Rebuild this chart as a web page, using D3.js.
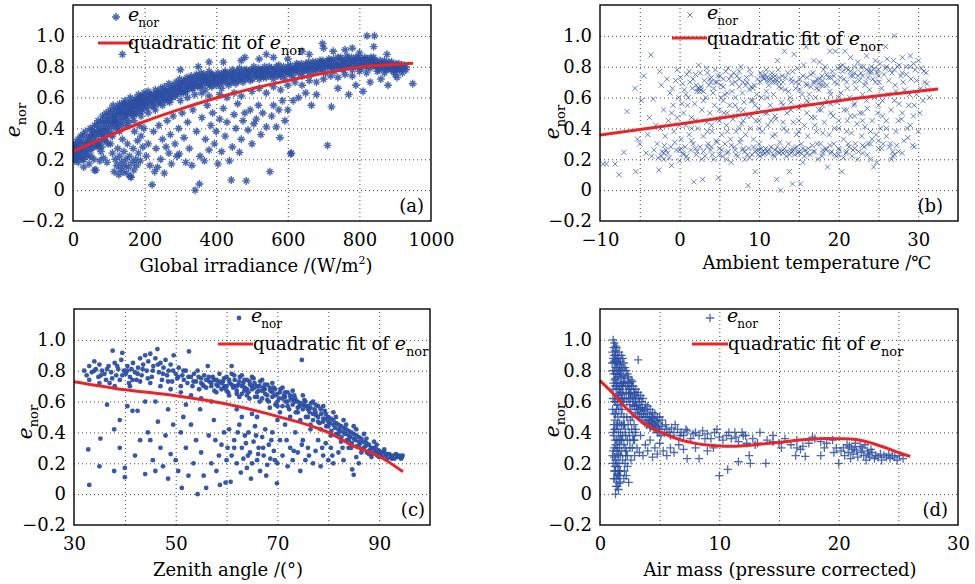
<!DOCTYPE html>
<html><head><meta charset="utf-8">
<script src="https://cdn.jsdelivr.net/npm/d3@7"></script>
<style>
body{margin:0;background:#fff;}
svg{display:block;font-family:"DejaVu Serif",serif;}
</style></head><body>
<svg id="chart" width="975" height="584"></svg>
<script>
// ---------------- DATA ----------------
const yTicks = [-0.2, 0, 0.2, 0.4, 0.6, 0.8, 1.0];
const yGrid = [0, 0.2, 0.4, 0.6, 0.8, 1.0];
const xTicksIrr = [0, 200, 400, 600, 800, 1000];
const xTicksTemp = [-10, 0, 10, 20, 30];
const xTicksZen = [30, 50, 70, 90];
const xTicksAM = [0, 10, 20, 30];
const panelLabels = ["(a)", "(b)", "(c)", "(d)"];

const ptsIrr = [[2,0.24],[3,0.27],[5,0.22],[6,0.3],[8,0.25],[10,0.28],[12,0.21],[14,0.33],[15,0.26],[18,0.23],[20,0.3],[22,0.35],[25,0.27],[27,0.2],[30,0.32],[32,0.25],[35,0.38],[38,0.29],[40,0.22],[42,0.34],[45,0.3],[48,0.4],[50,0.26],[52,0.36],[55,0.32],[58,0.2],[60,0.42],[62,0.35],[65,0.29],[68,0.38],[70,0.45],[72,0.31],[75,0.4],[78,0.25],[80,0.36],[82,0.48],[85,0.43],[88,0.33],[90,0.39],[92,0.5],[95,0.45],[98,0.3],[100,0.41],[103,0.52],[105,0.47],[108,0.36],[110,0.44],[112,0.55],[115,0.49],[118,0.4],[120,0.46],[123,0.53],[125,0.43],[128,0.5],[130,0.56],[133,0.47],[135,0.52],[138,0.42],[140,0.55],[143,0.5],[145,0.58],[148,0.46],[150,0.53],[153,0.49],[155,0.56],[158,0.51],[160,0.6],[163,0.54],[165,0.48],[168,0.57],[170,0.52],[173,0.59],[175,0.55],[178,0.5],[180,0.58],[183,0.62],[185,0.54],[188,0.57],[190,0.6],[193,0.52],[195,0.56],[198,0.63],[200,0.58],[205,0.55],[208,0.6],[210,0.64],[215,0.57],[218,0.61],[220,0.55],[225,0.62],[228,0.58],[230,0.65],[235,0.6],[238,0.56],[240,0.63],[245,0.66],[248,0.59],[250,0.62],[255,0.67],[258,0.6],[260,0.64],[265,0.58],[268,0.69],[270,0.63],[275,0.66],[278,0.6],[280,0.68],[285,0.64],[288,0.7],[290,0.62],[295,0.67],[298,0.72],[300,0.65],[305,0.69],[308,0.63],[310,0.71],[315,0.67],[318,0.73],[320,0.65],[325,0.7],[328,0.68],[330,0.74],[335,0.66],[338,0.71],[340,0.69],[345,0.75],[348,0.67],[350,0.72],[355,0.7],[358,0.76],[360,0.68],[365,0.73],[368,0.71],[370,0.65],[375,0.74],[378,0.69],[380,0.77],[385,0.72],[388,0.67],[390,0.75],[395,0.7],[398,0.73],[400,0.68],[405,0.76],[410,0.71],[412,0.74],[415,0.66],[420,0.73],[425,0.77],[428,0.7],[430,0.75],[435,0.68],[440,0.74],[445,0.78],[448,0.71],[450,0.76],[455,0.69],[460,0.74],[465,0.79],[468,0.72],[470,0.76],[475,0.7],[480,0.75],[485,0.78],[488,0.73],[490,0.77],[495,0.71],[500,0.76],[505,0.8],[510,0.74],[515,0.77],[520,0.72],[525,0.78],[530,0.75],[535,0.8],[540,0.73],[545,0.77],[550,0.75],[555,0.79],[560,0.72],[565,0.78],[570,0.76],[575,0.81],[580,0.74],[585,0.78],[590,0.72],[595,0.77],[600,0.8],[605,0.75],[610,0.78],[615,0.73],[620,0.79],[625,0.82],[630,0.76],[635,0.8],[640,0.74],[645,0.78],[650,0.82],[655,0.77],[660,0.8],[665,0.75],[670,0.83],[675,0.79],[680,0.77],[685,0.81],[690,0.84],[695,0.78],[700,0.82],[705,0.76],[710,0.8],[715,0.85],[720,0.79],[725,0.83],[730,0.77],[735,0.81],[740,0.86],[745,0.8],[750,0.84],[755,0.78],[760,0.82],[765,0.87],[770,0.8],[775,0.84],[780,0.78],[785,0.83],[790,0.86],[795,0.8],[800,0.84],[805,0.79],[810,0.82],[815,0.86],[820,0.81],[825,0.84],[830,0.79],[835,0.83],[840,0.86],[845,0.8],[850,0.83],[855,0.78],[860,0.82],[865,0.8],[870,0.84],[875,0.78],[880,0.81],[885,0.79],[890,0.83],[895,0.77],[900,0.8],[905,0.78],[910,0.82],[915,0.79],[920,0.76],[925,0.81],[930,0.78],
[410,0.62],[430,0.6],[450,0.63],[470,0.61],[500,0.64],[520,0.66],[540,0.63],[560,0.67],[580,0.65],[600,0.68],[620,0.7],[640,0.68],[660,0.71],[680,0.7],[700,0.72],[720,0.74],[740,0.73],[760,0.75],[780,0.74],[800,0.77],[820,0.76],[850,0.77],[870,0.76],[900,0.75],[300,0.58],[320,0.6],[340,0.62],[360,0.63],[380,0.61],[250,0.55],[270,0.57],[230,0.52],[210,0.5],[190,0.48],[170,0.45],[150,0.42],[130,0.38],[110,0.35],[90,0.32],[70,0.28],[50,0.22],[30,0.2],[15,0.18],[5,0.19],
[4,0.29],[9,0.2],[13,0.24],[17,0.31],[21,0.26],[24,0.22],[28,0.36],[33,0.29],[37,0.24],[41,0.31],[44,0.27],[47,0.35],[51,0.3],[54,0.39],[57,0.28],[61,0.37],[64,0.32],[67,0.42],[71,0.36],[74,0.3],[77,0.44],[79,0.39],[83,0.35],[86,0.46],[89,0.41],[93,0.37],[96,0.48],[99,0.44],[102,0.38],[106,0.5],[109,0.42],[113,0.46],[116,0.52],[119,0.44],[122,0.49],[126,0.41],[129,0.54],[132,0.5],[136,0.45],[139,0.51],[142,0.56],[146,0.48],[149,0.55],[152,0.51],[156,0.44],[159,0.57],[162,0.53],[166,0.5],[169,0.55],[172,0.49],[176,0.58],[179,0.53],[182,0.56],[186,0.6],[189,0.51],[192,0.58],[196,0.54],[199,0.61],[203,0.57],[207,0.53],[212,0.59],[216,0.62],[222,0.58],[226,0.54],[232,0.6],[236,0.63],[242,0.57],[246,0.61],[252,0.64],[256,0.58],[262,0.62],[266,0.65],[272,0.6],[276,0.63],[282,0.66],[286,0.61],[292,0.65],[296,0.69],[302,0.63],[306,0.66],[312,0.7],[316,0.64],[322,0.68],[326,0.72],[332,0.66],[336,0.7],[342,0.73],[346,0.68],[352,0.74],[356,0.67],[362,0.71],[366,0.75],[372,0.7],[376,0.72],[382,0.68],[386,0.75],[392,0.71],[396,0.74],[402,0.72],[408,0.69],[414,0.75],[418,0.7],[422,0.76],[426,0.72],[432,0.73],[438,0.76],[442,0.7],[446,0.74],[452,0.72],[458,0.77],[462,0.71],[466,0.75],[472,0.73],[478,0.78],[482,0.72],[486,0.75],[492,0.74],[498,0.78],[502,0.72],[508,0.77],[512,0.75],[518,0.79],[522,0.74],[528,0.77],[532,0.73],[538,0.78],[542,0.76],[548,0.8],[552,0.74],[558,0.77],[562,0.75],[568,0.8],[572,0.74],[578,0.78],[582,0.76],[588,0.8],[592,0.75],[598,0.78],[602,0.77],[608,0.81],[612,0.76],[618,0.79],[622,0.77],[628,0.81],[632,0.78],[638,0.82],[642,0.77],[648,0.8],[652,0.78],[658,0.83],[662,0.79],[668,0.81],[672,0.78],[678,0.83],[682,0.8],[688,0.82],[692,0.79],[698,0.84],[702,0.8],[708,0.83],[712,0.81],[718,0.84],[722,0.8],[728,0.85],[732,0.81],[738,0.83],[742,0.8],[748,0.86],[752,0.81],[758,0.84],[762,0.8],[768,0.85],[772,0.82],[778,0.86],[782,0.81],[788,0.84],[792,0.82],[798,0.86],[802,0.81],[808,0.85],[812,0.83],[818,0.8],[822,0.85],[828,0.82],[832,0.86],[838,0.81],[842,0.84],[848,0.82],[852,0.8],[858,0.84],[862,0.81],[868,0.79],[872,0.82],[878,0.8],[882,0.83],[888,0.78],[892,0.81],[898,0.79],[902,0.82],[908,0.8],[912,0.78],[918,0.81],[922,0.79],[928,0.8],
[640,0.9],[660,0.88],[700,0.92],[697,0.95],[727,0.9],[760,0.91],[780,0.92],[800,0.89],[821,1.0],[842,1.0],[840,0.93],[877,0.88],[905,0.73],[949,0.69],[560,0.86],[600,0.85],[520,0.85],[470,0.84],[420,0.83],[380,0.83],[300,0.78],[350,0.8],[138,0.88],[480,0.86],[540,0.88],
[30,0.15],[45,0.17],[60,0.13],[64,0.13],[75,0.19],[85,0.21],[95,0.18],[80,0.28],[105,0.3],[110,0.24],[115,0.12],[118,0.2],[122,0.16],[125,0.27],[128,0.1],[130,0.22],[132,0.14],[135,0.18],[138,0.33],[140,0.12],[142,0.25],[145,0.16],[148,0.2],[150,0.11],[152,0.3],[155,0.15],[158,0.22],[160,0.09],[162,0.083],[165,0.18],[168,0.27],[170,0.13],[172,0.38],[175,0.2],[178,0.16],[180,0.32],[183,0.24],[185,0.42],[188,0.19],[190,0.35],[195,0.28],[198,0.4],[205,0.22],[210,0.3],[215,0.16],[221,0.035],[225,0.38],[228,0.12],[232,0.27],[236,0.148],[240,0.42],[245,0.2],[250,0.33],[255,0.11],[260,0.28],[263,0.45],[268,0.24],[272,0.36],[275,0.17],[280,0.48],[285,0.3],[290,0.22],[297,0.235],[295,0.4],[305,0.5],[310,0.34],[315,0.18],[320,0.44],[325,0.27],[332,0.16],[335,0.52],[341,0.0],[345,0.38],[353,0.04],[355,0.22],[360,0.47],[367,0.19],[370,0.33],[375,0.55],[380,0.26],[385,0.42],[390,0.5],[395,0.3],[400,0.38],[405,0.17],[410,0.46],[415,0.25],[420,0.53],[425,0.35],[430,0.44],[437,0.19],[442,0.065],[445,0.28],[450,0.49],[455,0.4],[460,0.56],[465,0.245],[470,0.33],[475,0.45],[480,0.5],[484,0.06],[489,0.39],[495,0.52],[500,0.3],[505,0.43],[512,0.46],[518,0.55],[525,0.36],[530,0.5],[540,0.41],[550,0.12],[555,0.48],[560,0.55],[568,0.41],[575,0.52],[578,0.34],[585,0.58],[592,0.45],[600,0.52],[608,0.235],[610,0.24],[615,0.58],[630,0.6],[650,0.63],[666,0.55],[680,0.62],[711,0.29],[722,0.54],[740,0.66],[770,0.62],[790,0.68],[810,0.64],[830,0.7],[860,0.72],[880,0.68]];

const ptsTemp = [[-9.6,0.17],[-9.2,0.17],[-8.1,0.17],[-7.6,0.1],[-7,0.245],[-6.6,0.51],[-5.6,0.66],[-5.5,0.12],[-5.3,0.33],[-5,0.3],[-4.5,0.74],[-4.8,0.58],[-4.2,0.24],[-4,0.36],[-3.6,0.876],[-3.5,0.22],[-3.8,0.47],[-3.3,0.59],[-3,0.42],[-2.8,0.3],[-2.6,0.13],[-2.5,0.77],[-2.3,0.68],[-2.2,0.25],[-2,0.52],[-2,0.2],[-1.8,0.35],[-1.6,0.72],[-1.5,0.24],[-1.4,0.45],[-1.2,0.63],[-1.1,0.28],[-1,0.16],[-0.8,0.55],[-0.7,0.38],[-0.5,0.71],[-0.4,0.26],[-0.3,0.47],[-0.1,0.6],[0,0.19],[0.1,0.73],[0.2,0.33],[0.3,0.56],[0.4,0.24],[0.5,0.5],[0.6,0.65],[0.7,0.28],[0.8,0.42],[0.9,0.75],[1,0.2],[1.1,0.6],[1.2,0.36],[1.3,0.7],[1.4,0.26],[1.5,0.47],[1.6,0.66],[1.7,0.3],[1.8,0.054],[1.9,0.56],[2,0.75],[2.1,0.23],[2.2,0.64],[2.3,0.4],[2.4,0.81],[2.5,0.66],[2.6,0.28],[2.7,0.65],[2.8,0.52],[2.9,0.07],[3,0.35],[3.1,0.71],[3.2,0.22],[3.3,0.6],[3.4,0.44],[3.5,0.76],[3.6,0.3],[3.7,0.68],[3.8,0.5],[3.9,0.26],[4,0.73],[4.1,0.38],[4.2,0.63],[4.3,0.2],[4.4,0.55],[4.5,0.78],[4.6,0.32],[4.7,0.7],[4.8,0.46],[4.9,0.08],[5,0.27],[5.1,0.74],[5.2,0.6],[5.3,0.36],[5.4,0.22],[5.5,0.67],[5.6,0.5],[5.7,0.3],[5.8,0.77],[5.9,0.42],[6,0.63],[6.1,0.25],[6.2,0.72],[6.3,0.55],[6.4,0.33],[6.5,0.18],[6.6,0.69],[6.7,0.46],[6.8,0.76],[6.9,0.28],[7,0.6],[7.1,0.38],[7.2,0.74],[7.3,0.22],[7.4,0.52],[7.5,0.67],[7.6,0.31],[7.7,0.8],[7.8,0.43],[7.9,0.26],[8,0.7],[8.1,0.57],[8.2,0.2],[8.3,0.36],[8.4,0.73],[8.5,0.48],[8.6,0.03],[8.7,0.27],[8.8,0.65],[8.9,0.4],[9,0.75],[9.1,0.23],[9.2,0.58],[9.3,0.33],[9.4,0.68],[9.5,0.12],[9.6,0.45],[9.7,0.26],[9.8,0.72],[9.9,0.53],[10,0.3],[10.1,0.22],[10.2,0.76],[10.3,0.6],[10.4,0.38],[10.5,0.25],[10.6,0.72],[10.7,0.5],[10.8,0.27],[10.9,0.64],[11,0.73],[11.1,0.42],[11.2,0.24],[11.3,0.71],[11.4,0.55],[11.5,0.28],[11.6,0.74],[11.7,0.35],[11.8,0.62],[11.9,0.22],[12,0.72],[12.1,0.46],[12.2,0.07],[12.3,0.84],[12.4,0.25],[12.5,0.67],[12.6,0.31],[12.7,0.0],[12.8,0.57],[12.9,0.74],[13,0.26],[13.1,0.4],[13.2,0.9],[13.3,0.65],[13.4,0.22],[13.5,0.5],[13.6,0.76],[13.7,0.3],[13.8,0.12],[13.9,0.6],[14,0.24],[14.1,0.7],[14.2,0.04],[14.3,0.44],[14.4,0.88],[14.5,0.27],[14.6,0.66],[14.7,0.36],[14.8,0.79],[14.9,0.24],[15,0.53],[15.1,0.72],[15.2,0.04],[15.3,0.3],[15.4,0.62],[15.5,0.18],[15.6,0.81],[15.7,0.42],[15.8,0.26],[15.9,0.93],[16,0.68],[16.1,0.35],[16.2,0.57],[16.3,0.98],[16.4,0.23],[16.5,0.75],[16.6,0.47],[16.7,0.29],[16.8,0.7],[16.9,0.84],[17,0.25],[17.1,0.6],[17.2,0.38],[17.3,0.72],[17.4,0.2],[17.5,0.65],[17.6,0.83],[17.7,0.3],[17.8,0.52],[17.9,0.74],[18,0.24],[18.1,0.68],[18.2,0.44],[18.3,0.8],[18.4,0.27],[18.5,0.58],[18.6,0.15],[18.7,0.73],[18.8,0.36],[18.9,0.9],[19,0.62],[19.1,0.25],[19.2,0.77],[19.3,0.48],[19.4,0.3],[19.5,0.7],[19.6,0.9],[19.7,0.22],[19.8,0.57],[19.9,0.79],[20,0.4],[20.1,0.26],[20.2,0.73],[20.3,0.63],[20.4,0.12],[20.5,0.81],[20.6,0.33],[20.7,0.52],[20.8,0.9],[20.9,0.24],[21,0.7],[21.1,0.45],[21.2,0.78],[21.3,0.28],[21.4,0.6],[21.5,0.86],[21.6,0.37],[21.7,0.22],[21.8,0.74],[21.9,0.55],[22,0.8],[22.1,0.3],[22.2,0.66],[22.3,0.43],[22.4,0.83],[22.5,0.25],[22.6,0.71],[22.7,0.5],[22.8,0.76],[22.9,0.35],[23,0.62],[23.1,0.8],[23.2,0.28],[23.3,0.41],[23.4,0.7],[23.5,0.87],[23.6,0.53],[23.7,0.3],[23.8,0.77],[23.9,0.65],[24,0.2],[24.1,0.8],[24.2,0.45],[24.3,0.72],[24.4,0.15],[24.5,0.6],[24.6,0.84],[24.7,0.36],[24.8,0.76],[24.9,0.5],[25,0.27],[25.1,0.7],[25.2,0.82],[25.3,0.4],[25.5,0.58],[25.6,0.3],[25.7,0.75],[25.9,0.93],[26,0.45],[26.1,0.85],[26.2,0.62],[26.4,0.28],[26.5,0.78],[26.6,0.52],[26.8,0.22],[26.9,0.84],[27,1.0],[27.1,0.68],[27.2,0.38],[27.4,0.8],[27.5,0.25],[27.6,0.56],[27.8,0.74],[27.9,0.46],[28,0.86],[28.2,0.32],[28.3,0.65],[28.5,0.8],[28.6,0.4],[28.8,0.55],[29,0.87],[29.1,0.72],[29.3,0.29],[29.4,0.48],[29.6,0.78],[29.8,0.62],[30,0.84],[30.2,0.5],[30.4,0.79],[30.6,0.58],[30.8,0.7],[31,0.76],[31.2,0.65],[31.4,0.6],
[2.5,0.64],[2.7,0.67],[2.3,0.66],[3.8,0.72],[4.5,0.7],[10.5,0.73],[11,0.71],[11.5,0.72],[12,0.74],[11.8,0.7],[12.5,0.73],[10.8,0.75],[17,0.7],[17.5,0.69],[18,0.71],[16.5,0.67],[19,0.73],[18.5,0.75],[17.8,0.68],[20.5,0.77],[21,0.79],[22,0.76],[23.5,0.78],[24,0.76],[24.5,0.79],[23,0.74],[21.5,0.74],[9.5,0.25],[10,0.26],[10.5,0.23],[11,0.25],[12,0.26],[12.5,0.24],[13,0.24],[13.5,0.25],[14,0.26],[14.5,0.23],[15,0.25],[15.5,0.27],[16,0.24],[8,0.27],[8.5,0.23],[-2,0.24],[-1.7,0.26],[-2.3,0.22],[0,0.26],[0.5,0.23],[18,0.26],[19,0.24],[20,0.23],[21,0.25],[22,0.27],[23,0.24],[6,0.24],[7,0.26],[5,0.23],[3,0.25],[4,0.28],[2,0.27],[24,0.3],[25,0.32],[26.5,0.3],[26.8,0.25],[27,0.23],[5.5,0.72],[6.5,0.74],[7.5,0.72],[8.5,0.7],[9,0.67],[14,0.72],[15,0.69],[16,0.73],[13,0.7],[12.5,0.7],[27,0.78],[28,0.76],[29,0.8],[26,0.8],[25,0.78],[10,0.45],[11,0.5],[12,0.48],[13,0.55],[14,0.52],[15,0.45],[16,0.5],[17,0.47],[18,0.55],[19,0.5],[20,0.45],[21,0.52],[22,0.48],[23,0.45],[5,0.45],[6,0.5],[7,0.48],[8,0.52],[9,0.48],
[-0.9,0.66],[-0.3,0.78],[0.4,0.69],[0.8,0.62],[1.2,0.77],[1.7,0.72],[2.1,0.68],[2.6,0.76],[3.0,0.64],[3.4,0.79],[3.9,0.7],[4.3,0.66],[4.8,0.74],[5.2,0.68],[5.7,0.62],[6.1,0.79],[6.6,0.64],[7.0,0.7],[7.5,0.77],[7.9,0.63],[8.3,0.68],[8.8,0.78],[9.2,0.66],[9.7,0.62],[10.1,0.7],[10.4,0.74],[10.9,0.78],[11.2,0.68],[11.6,0.76],[12.1,0.7],[12.4,0.78],[12.8,0.66],[13.3,0.73],[13.7,0.64],[14.2,0.77],[14.6,0.7],[15.1,0.65],[15.5,0.74],[15.9,0.69],[16.3,0.62],[16.8,0.76],[17.2,0.66],[17.6,0.72],[18.1,0.78],[18.5,0.68],[18.9,0.64],[19.4,0.74],[19.8,0.69],[20.2,0.8],[20.7,0.72],[21.1,0.66],[21.5,0.77],[22,0.7],[22.4,0.74],[22.8,0.8],[23.3,0.68],[23.7,0.73],[24.1,0.77],[24.6,0.7],[25,0.74],[25.4,0.66],[25.9,0.79],[26.3,0.71],[26.7,0.76],[27.2,0.64],[27.6,0.81],[28.1,0.7],[28.5,0.75],[28.9,0.62],[29.4,0.82],[29.8,0.71],[30.3,0.66],[30.7,0.77],[31.1,0.69],
[-3.2,0.26],[-2.7,0.21],[-1.9,0.29],[-1.3,0.21],[-0.6,0.31],[0.2,0.27],[0.9,0.22],[1.5,0.32],[2.2,0.25],[2.8,0.2],[3.5,0.28],[4.1,0.23],[4.7,0.31],[5.3,0.26],[5.9,0.2],[6.5,0.29],[7.1,0.23],[7.7,0.33],[8.2,0.25],[8.8,0.21],[9.3,0.28],[9.9,0.23],[10.3,0.27],[10.7,0.24],[11.3,0.26],[11.8,0.23],[12.3,0.28],[12.8,0.25],[13.2,0.27],[13.8,0.23],[14.3,0.26],[14.7,0.28],[15.3,0.24],[15.7,0.22],[16.2,0.27],[16.8,0.25],[17.3,0.3],[17.9,0.22],[18.4,0.26],[18.9,0.29],[19.5,0.23],[20,0.27],[20.6,0.21],[21.2,0.3],[21.8,0.26],[22.4,0.2],[23,0.29],[23.6,0.23],[24.2,0.33],[24.8,0.18],[25.4,0.27],[26,0.35],[26.6,0.2],[27.3,0.29],[28,0.24],[28.7,0.34],[29.5,0.28],
[-2.4,0.4],[-1,0.5],[0,0.42],[1,0.55],[2,0.45],[3,0.58],[4,0.42],[5,0.52],[6,0.38],[7,0.55],[8,0.45],[9,0.58],[10,0.4],[11,0.6],[12,0.36],[13,0.44],[14,0.57],[15,0.38],[16,0.58],[17,0.42],[18,0.37],[19,0.56],[20,0.6],[21,0.38],[22,0.56],[23,0.5],[24,0.38],[25,0.55],[26,0.4],[27,0.58],[28,0.5],[29,0.42],[30,0.38],[1.5,0.4],[3.5,0.38],[5.5,0.58],[7.5,0.4],[9.5,0.55],[11.5,0.45],[13.5,0.38],[15.5,0.55],[17.5,0.52],[19.5,0.4],[21.5,0.48],[23.5,0.58],[25.5,0.48],[27.5,0.45],[29.5,0.55]];

const ptsZen = [[32,0.8],[32.5,0.77],[33,0.83],[33.5,0.79],[34,0.86],[34.3,0.81],[34.8,0.76],[35,0.84],[35.5,0.8],[36,0.78],[36.3,0.74],[36.8,0.83],[37,0.72],[37.3,0.79],[37.6,0.93],[38,0.85],[38.3,0.77],[38.7,0.81],[39,0.74],[39.3,0.87],[39.5,0.915],[39.8,0.8],[40.2,0.78],[40.5,0.83],[40.8,0.72],[41,0.76],[41.3,0.81],[41.6,0.85],[42,0.79],[42.3,0.74],[42.6,0.82],[43,0.88],[43.3,0.77],[43.6,0.84],[44,0.9],[44.3,0.8],[44.6,0.86],[45,0.91],[45.3,0.76],[45.6,0.83],[46,0.88],[46.4,0.94],[46.7,0.79],[47,0.85],[47.3,0.74],[47.6,0.82],[48,0.87],[48.3,0.77],[48.6,0.8],[49,0.84],[49.3,0.73],[49.6,0.9],[50,0.78],[50.3,0.75],[50.6,0.82],[51,0.7],[51.3,0.77],[51.6,0.74],[52,0.8],[52.3,0.72],[52.6,0.925],[53,0.76],[53.3,0.7],[53.6,0.78],[54,0.73],[54.3,0.8],[54.6,0.68],[55,0.75],[55.3,0.71],[55.6,0.77],[56,0.69],[56.3,0.83],[56.6,0.73],[57,0.7],[57.3,0.76],[57.6,0.67],[58,0.74],[58.3,0.7],[58.6,0.78],[59,0.68],[59.3,0.73],[59.6,0.7],[60,0.76],[60.3,0.66],[60.6,0.72],[61,0.83],[61.3,0.69],[61.6,0.74],[62,0.67],[62.3,0.71],[62.6,0.76],[63,0.65],[63.3,0.72],[63.6,0.69],[64,0.74],[64.3,0.66],[64.6,0.71],[65,0.68],[65.3,0.75],[65.6,0.63],[66,0.7],[66.3,0.67],[66.6,0.73],[67,0.62],[67.3,0.69],[67.6,0.65],[68,0.71],[68.3,0.6],[68.6,0.67],[69,0.63],[69.3,0.69],[69.6,0.58],[70,0.65],[70.3,0.62],[70.6,0.68],[71,0.57],[71.3,0.64],[71.6,0.6],[72,0.66],[72.3,0.55],[72.6,0.62],[73,0.58],[73.3,0.64],[73.6,0.53],[74,0.6],[74.3,0.57],[74.8,0.87],[75,0.55],[75.3,0.61],[75.6,0.5],[76,0.57],[76.3,0.53],[76.6,0.59],[77,0.48],[77.3,0.55],[77.6,0.51],[78,0.57],[78.3,0.46],[78.6,0.52],[79,0.49],[79.3,0.54],[79.6,0.44],[80,0.5],[80.3,0.46],[80.6,0.41],[81,0.48],[81.3,0.43],[81.6,0.39],[82,0.45],[82.3,0.41],[82.6,0.37],[83,0.43],[83.3,0.39],[83.6,0.35],[84,0.41],[84.3,0.37],[84.6,0.33],[85,0.39],[85.3,0.35],[85.6,0.31],[86,0.37],[86.3,0.33],[86.6,0.29],[87,0.34],[87.3,0.31],[87.6,0.27],[88,0.32],[88.3,0.29],[88.6,0.26],[89,0.3],[89.3,0.27],[89.6,0.25],[90,0.28],[90.3,0.26],[90.6,0.24],[91,0.27],[91.3,0.25],[91.6,0.23],[92,0.26],[92.3,0.24],[92.6,0.25],[93,0.23],[93.3,0.26],[93.6,0.24],[94,0.25],[94.3,0.23],[94.6,0.25],
[55,0.72],[56,0.74],[57,0.72],[58,0.71],[59,0.72],[60,0.7],[61,0.71],[62,0.7],[63,0.7],[64,0.68],[65,0.7],[66,0.66],[67,0.67],[68,0.64],[69,0.66],[70,0.6],[71,0.62],[72,0.6],[73,0.61],[74,0.56],[75,0.58],[76,0.55],[77,0.52],[78,0.5],[79,0.47],[80,0.47],[81,0.45],[82,0.42],[83,0.4],[84,0.38],[85,0.36],[86,0.34],[87,0.3],[88,0.28],[89,0.27],[90,0.26],[59.5,0.75],[61.5,0.77],[63.5,0.74],[65.5,0.72],[67.5,0.71],[69.5,0.68],[71.5,0.66],[73.5,0.62],[75.5,0.6],[77.5,0.58],[79.5,0.52],[81.5,0.5],[83.5,0.45],[85.5,0.42],[87.5,0.36],[89.5,0.32],[60.5,0.64],[62.5,0.63],[64.5,0.62],[66.5,0.6],[68.5,0.56],[70.5,0.53],[72.5,0.5],[74.5,0.48],[76.5,0.45],[78.5,0.42],[80.5,0.38],[82.5,0.34],[84.5,0.3],[86.5,0.27],[88.5,0.24],[45,0.72],[47,0.7],[43,0.73],[41,0.7],[38,0.7],[35,0.72],[49,0.68],[51,0.66],[53,0.64],[55,0.62],
[33,0.74],[34,0.8],[35.3,0.77],[36.5,0.81],[37.5,0.75],[38.5,0.83],[39.5,0.77],[40.5,0.8],[41.5,0.74],[42.5,0.78],[43.5,0.81],[44.5,0.75],[45.5,0.8],[46.5,0.84],[47.5,0.78],[48.5,0.73],[49.5,0.8],[50.5,0.76],[51.5,0.8],[52.5,0.76],[53.5,0.73],[54.5,0.76],[55.5,0.7],[56.5,0.76],[57.5,0.74],[58.5,0.73],[59.5,0.69],[60.5,0.74],[61.5,0.7],[62.5,0.73],[63.5,0.67],[64.5,0.73],[65.5,0.69],[66.5,0.7],[67.5,0.68],[68.5,0.69],[69.5,0.64],[70.5,0.66],[71.5,0.63],[72.5,0.64],[73.5,0.6],[74.5,0.59],[75.5,0.57],[76.5,0.56],[77.5,0.53],[78.5,0.55],[79.5,0.49],[80.5,0.49],[81.5,0.46],[82.5,0.44],[83.5,0.42],[84.5,0.4],[85.5,0.38],[86.5,0.36],[87.5,0.33],[88.5,0.3],[89.5,0.29],[90.5,0.27],[91.5,0.26],[92.5,0.23],[93.5,0.25],[94.5,0.24],[58,0.66],[60,0.67],[62,0.65],[64,0.64],[66,0.63],[68,0.61],[70,0.57],[72,0.57],[74,0.53],[76,0.5],[78,0.47],[80,0.44],[82,0.39],[84,0.35],[86,0.31],[88,0.26],[90,0.24],[61,0.78],[63,0.77],[65,0.76],[67,0.74],[69,0.72],[71,0.69],[73,0.67],[75,0.64],[77,0.6],[79,0.57],[81,0.53],[83,0.48],[85,0.44],[87,0.39],[89,0.34],[91,0.29],
[33,0.06],[32.8,0.29],[35,0.18],[35.2,0.36],[37.9,0.42],[37.9,0.15],[40,0.17],[40,0.11],[39,0.3],[40.5,0.57],[41.5,0.54],[42.5,0.54],[43,0.35],[44,0.13],[44.5,0.4],[45,0.35],[45.5,0.22],[46,0.6],[46.5,0.47],[47,0.3],[47.5,0.18],[48,0.38],[48.5,0.55],[49,0.26],[49.5,0.45],[50,0.22],[50.5,0.15],[51,0.4],[51.2,0.04],[51.5,0.5],[52,0.3],[52.5,0.12],[53,0.45],[53.5,0.2],[54,0.35],[54.3,0.0],[54.8,0.55],[55,0.27],[55.5,0.12],[56,0.04],[56.5,0.38],[57,0.2],[57.5,0.48],[58,0.15],[58.7,0.06],[59,0.32],[59.8,0.075],[60,0.22],[60.5,0.42],[61,0.25],[61.5,0.35],[62,0.2],[62.5,0.45],[63,0.3],[63.3,0.23],[63.6,0.38],[64,0.17],[64.3,0.4],[64.6,0.27],[65,0.2],[65.3,0.34],[65.6,0.44],[66,0.22],[66.3,0.3],[66.6,0.15],[67,0.37],[67.3,0.25],[67.6,0.42],[68,0.19],[68.3,0.32],[68.6,0.23],[69,0.4],[69.3,0.28],[69.9,0.07],[70,0.2],[70.5,0.35],[71,0.25],[71.5,0.45],[72,0.18],[72.5,0.3],[73,0.22],[73.5,0.4],[74,0.27],[74.5,0.15],[75,0.35],[75.5,0.22],[76,0.3],[76.5,0.42],[77,0.2],[77.5,0.28],[78,0.35],[78.5,0.18],[79,0.25],[79.5,0.33],[80,0.22],[80.5,0.3],[81,0.2],[82,0.27],[83,0.22],[84,0.3],[84.7,0.16],[85,0.125],[85.5,0.24],[86,0.2],[42,0.25],[36.5,0.58],[39,0.48],[44,0.6],[46,0.15],[48.5,0.1],[52,0.58],[57,0.6],[62,0.55],[66,0.5],[70,0.48],[62.8,0.14],[64.8,0.1],[67.8,0.12],[60.8,0.08],[63,0.5],[65,0.52],
[61.5,0.3],[62.2,0.4],[63.8,0.33],[64.2,0.25],[65.8,0.38],[66.2,0.26],[67.2,0.3],[68.8,0.35],[69.5,0.22],[71.8,0.35],[73.2,0.28],[74.8,0.32],[76.2,0.25],[78.8,0.3],[80.8,0.25],[82.8,0.3],[57.8,0.35],[58.5,0.25],[59.5,0.4],[60.2,0.3]];

const ptsAM = [[1.05,0.92],[1.1,1.0],[1.1,0.88],[1.15,0.95],[1.2,0.9],[1.25,0.85],[1.3,0.93],[1.2,0.8],[1.35,0.87],[1.4,0.82],[1.15,0.78],[1.3,0.75],[1.45,0.9],[1.5,0.85],[1.25,0.7],[1.4,0.72],[1.55,0.8],[1.6,0.76],[1.1,0.68],[1.35,0.65],[1.5,0.68],[1.65,0.84],[1.7,0.78],[1.2,0.6],[1.45,0.58],[1.6,0.62],[1.75,0.72],[1.8,0.81],[1.3,0.52],[1.5,0.5],[1.05,0.55],[1.15,0.45],[1.35,0.42],[1.55,0.4],[1.25,0.35],[1.45,0.3],[1.1,0.28],[1.3,0.22],[1.5,0.18],[1.2,0.15],[1.4,0.1],[1.6,0.07],[1.35,0.05],[1.3,0.0],[1.55,0.03],[1.65,0.12],[1.7,0.25],[1.75,0.35],[1.8,0.45],[1.85,0.55],[1.9,0.7],[1.95,0.77],[2.0,0.73],[1.6,0.2],[1.7,0.15],[1.8,0.28],[1.9,0.38],[1.45,0.62],[1.25,0.48],[1.15,0.38],[1.05,0.25],[1.2,0.3],[1.4,0.35],[1.55,0.26],[1.65,0.46],[1.75,0.58],[1.85,0.65],[1.25,0.18],[1.45,0.13],[1.35,0.78],[1.5,0.72],[1.65,0.68],[1.8,0.62],[1.95,0.6],[2.0,0.5],[2.1,0.75],[2.1,0.42],[2.0,0.32],[1.9,0.22],[2.1,0.2],[2.2,0.12],[2.4,0.076],[2.2,0.28],[2.3,0.35],[2.3,0.7],[2.2,0.65],[2.4,0.68],[2.5,0.72],[2.4,0.62],[2.6,0.66],[2.5,0.58],[2.7,0.63],[2.6,0.55],[2.8,0.6],[2.7,0.5],[2.9,0.57],[3.0,0.62],[3.0,0.53],[3.1,0.58],[3.2,0.55],[3.2,0.87],[3.3,0.6],[3.3,0.5],[3.4,0.56],[3.5,0.52],[3.5,0.6],[3.6,0.48],[3.7,0.54],[3.8,0.5],[3.9,0.45],[4.0,0.52],[4.1,0.48],[4.2,0.43],[4.3,0.5],[4.4,0.46],[4.5,0.42],[4.6,0.48],[4.7,0.44],[4.8,0.4],[4.9,0.46],[5.0,0.42],[5.1,0.38],[5.2,0.44],[5.4,0.4],[5.6,0.42],[5.8,0.4],[6.0,0.43],[6.2,0.4],[6.5,0.42],[6.8,0.4],[7.0,0.38],[7.3,0.41],[7.6,0.36],[8.0,0.4],[8.3,0.38],[8.6,0.41],[9.0,0.39],[9.3,0.36],[9.6,0.4],[10.0,0.37],[10.3,0.35],[10.6,0.38],[11.0,0.36],[11.3,0.4],[11.6,0.34],[11.9,0.4],[12.3,0.33],[12.8,0.36],[13.4,0.4],[13.2,0.33],[14.0,0.35],[14.5,0.34],[15.0,0.33],[15.5,0.36],[16.0,0.32],[16.5,0.35],[17.0,0.31],[17.5,0.33],[18.0,0.36],[18.5,0.34],[19.0,0.33],[19.5,0.35],
[2.5,0.3],[2.6,0.22],[2.8,0.35],[2.9,0.25],[3.0,0.42],[3.1,0.3],[3.3,0.27],[3.4,0.38],[3.6,0.25],[3.8,0.32],[4.0,0.28],[4.2,0.35],[4.4,0.24],[4.6,0.3],[4.8,0.26],[5.0,0.33],[5.3,0.28],[5.6,0.25],[5.9,0.3],[6.2,0.27],[6.6,0.32],[7.0,0.29],[7.3,0.23],[8.3,0.23],[8.0,0.3],[9.0,0.28],[9.5,0.3],[10.0,0.12],[10.7,0.16],[11.6,0.21],[12.5,0.25],[12.6,0.2],[13.9,0.2],[16.4,0.25],[17.2,0.245],[18.5,0.25],[20.0,0.2],[15.2,0.3],[16.8,0.29],
[2.0,0.85],[2.2,0.8],[2.4,0.76],[2.6,0.74],[2.8,0.7],[3.0,0.68],[3.2,0.66],[3.4,0.64],[3.6,0.62],[3.8,0.58],[4.0,0.57],[4.2,0.55],[4.4,0.53],[4.6,0.52],[4.8,0.5],[5.0,0.5],[5.2,0.48],[1.9,0.88],[2.1,0.82],[2.3,0.78],[2.5,0.68],[2.7,0.73],[2.9,0.66],[3.1,0.64],[1.4,0.95],[1.6,0.92],[1.8,0.9],[1.7,0.86],[1.3,0.96],[1.2,0.98],
[20.2,0.28],[20.4,0.3],[20.5,0.25],[20.7,0.32],[20.8,0.27],[21,0.23],[21.1,0.3],[21.2,0.26],[21.4,0.33],[21.5,0.28],[21.6,0.24],[21.8,0.31],[21.9,0.27],[22,0.3],[22.1,0.25],[22.2,0.32],[22.3,0.22],[22.4,0.28],[22.5,0.26],[22.6,0.24],[22.8,0.27],[23,0.23],[23.1,0.25],[23.3,0.24],[23.5,0.26],[23.6,0.22],[23.8,0.25],[24,0.24],[24.2,0.26],[24.3,0.23],[24.5,0.25],[24.7,0.24],[24.9,0.22],[25.1,0.25],[25.4,0.23],[19.8,0.3],[19.6,0.27],[21.3,0.29],[22.7,0.29],[20.9,0.31],[12,0.38],[13,0.32],[14.5,0.38],[16.5,0.3],[17.8,0.37],[18.8,0.3],
[1.02,0.85],[1.08,0.8],[1.12,0.72],[1.18,0.86],[1.22,0.74],[1.28,0.9],[1.32,0.82],[1.38,0.7],[1.42,0.86],[1.48,0.78],[1.52,0.64],[1.58,0.88],[1.62,0.7],[1.68,0.8],[1.72,0.66],[1.78,0.76],[1.82,0.7],[1.88,0.82],[1.92,0.66],[1.98,0.72],[1.08,0.62],[1.18,0.52],[1.28,0.6],[1.38,0.55],[1.48,0.45],[1.58,0.55],[1.68,0.6],[1.78,0.52],[1.88,0.6],[1.12,0.4],[1.22,0.42],[1.32,0.32],[1.42,0.45],[1.52,0.35],[1.62,0.3],[1.72,0.4],[1.82,0.35],[1.1,0.2],[1.2,0.24],[1.3,0.15],[1.4,0.2],[1.5,0.25],[1.6,0.15],[1.7,0.08],[1.45,0.05],[1.25,0.1],[1.15,0.1],[1.35,0.28],[1.55,0.12],[1.65,0.35],[2.05,0.62],[2.15,0.7],[2.25,0.6],[2.35,0.72],[2.45,0.65],[2.55,0.62],[2.65,0.7],[2.75,0.57],[2.85,0.65],[2.95,0.6],[3.05,0.57],[3.15,0.52],[3.25,0.62],[3.35,0.55],[3.45,0.5],[3.55,0.56],[3.65,0.52],[3.75,0.46],[3.85,0.55],[3.95,0.5],[4.05,0.46],[4.15,0.5],[4.25,0.47],[4.35,0.44],[4.45,0.49],[4.55,0.45],[4.65,0.42],[4.75,0.47],[4.85,0.43],[4.95,0.4],[2.05,0.45],[2.15,0.38],[2.25,0.5],[2.35,0.45],[2.45,0.4],[2.55,0.48],[2.65,0.42],[2.75,0.38],[2.85,0.45],[2.95,0.4],[2.1,0.3],[2.3,0.25],[2.5,0.35],[2.7,0.3],[2.9,0.35],[2.05,0.15],[2.15,0.25],[1.95,0.45],[2.0,0.1],[2.3,0.18],[5.5,0.45],[5.9,0.38],[6.3,0.45],[6.7,0.38],[7.2,0.42],[7.8,0.39],[8.8,0.36],[9.8,0.42],[10.8,0.4],[11.4,0.37],[12.2,0.38]];

const fitIrr = [[0,0.25],[100,0.352],[200,0.445],[300,0.525],[400,0.597],[500,0.658],[600,0.71],[700,0.757],[800,0.797],[900,0.815],[950,0.823]];
const fitTemp = [[-10,0.357],[0,0.428],[10,0.505],[20,0.58],[32.5,0.656]];
const fitZen = [[30,0.729],[40,0.677],[50,0.638],[60,0.584],[70,0.504],[77.7,0.43],[80,0.40],[84.3,0.323],[90.5,0.236],[94.7,0.145]];
const fitAM = [[0,0.736],[1,0.66],[2,0.574],[3,0.498],[4,0.444],[5,0.405],[6,0.372],[7,0.346],[8,0.329],[9,0.318],[10,0.312],[11,0.31],[12,0.314],[13,0.32],[14,0.329],[15,0.335],[16,0.344],[17,0.353],[18,0.357],[19,0.361],[20,0.359],[21,0.357],[22,0.346],[23,0.325],[24,0.299],[25,0.27],[26,0.245]];

// ---------------- LAYOUT ----------------
const BLUE = "#2c4ea2", RED = "#e8262a";
const markers = {
  star: {d:"M-4,0H4M0,-4V4M-2.6,-2.6L2.6,2.6M-2.6,2.6L2.6,-2.6", sw:1.4, op:0.85, fill:"none"},
  times:{d:"M-2.6,-2.6L2.6,2.6M-2.6,2.6L2.6,-2.6", sw:1.0, op:0.7, fill:"none"},
  dot:  {d:"M-2.4,0A2.4,2.4 0 1,0 2.4,0A2.4,2.4 0 1,0 -2.4,0Z", sw:0, op:0.95, fill:BLUE},
  plus: {d:"M-4.2,0H4.2M0,-4.2V4.2", sw:1.3, op:0.85, fill:"none"}
};
const panels = [
  {pts:ptsIrr, fit:fitIrr, l:73,t:5,r:431,b:221, xd:[0,1000], xt:xTicksIrr, xg:[200,400,600,800],
   marker:"star", title:"irr", tx:256, ty:272, ylx:14, yly:120,
   leg:{mx:43,my:12,ex:55,ey:16,nsx:-1,nsy:6,lx1:25,lx2:60,ly:38,tx:55,ty:44}, labR:7},
  {pts:ptsTemp, fit:fitTemp, l:600,t:5,r:958,b:221, xd:[-10,35], xt:xTicksTemp, xg:[-5,0,5,10,15,20,25,30],
   marker:"times", title:"Ambient temperature /℃", tx:817, ty:269, ylx:553, yly:122,
   leg:{mx:90,my:10,ex:107,ey:14,nsx:-1,nsy:6,lx1:72,lx2:107,ly:33,tx:107,ty:40}, labR:15},
  {pts:ptsZen, fit:fitZen, l:74,t:309,r:430,b:525, xd:[30,100], xt:xTicksZen, xg:[40,50,60,70,80,90],
   marker:"dot", title:"Zenith angle /(°)", tx:228, ty:576, ylx:26, yly:422,
   leg:{mx:165,my:9,ex:177,ey:13,nsx:-1,nsy:6,lx1:144,lx2:179,ly:35,tx:179,ty:41}, labR:5},
  {pts:ptsAM, fit:fitAM, l:600,t:309,r:958,b:525, xd:[0,30], xt:xTicksAM, xg:[5,10,15,20,25],
   marker:"plus", title:"Air mass (pressure corrected)", tx:780, ty:576, ylx:553, yly:420,
   leg:{mx:110,my:9,ex:127,ey:13,nsx:-1,nsy:6,lx1:92,lx2:128,ly:35,tx:128,ty:41}, labR:10}
];

const svg = d3.select("#chart");
const fmt = d => d === 0 ? "0" : (d < 0 ? "\u2212" + Math.abs(d) : String(d));
const fmtY = d => d === 0 ? "0" : (d < 0 ? "\u2212" + Math.abs(d).toFixed(1) : d.toFixed(1));

panels.forEach((p, i) => {
  const x = d3.scaleLinear().domain(p.xd).range([p.l, p.r]);
  const y = d3.scaleLinear().domain([-0.2, 1.2]).range([p.b, p.t]);
  const g = svg.append("g");
  const clipId = "clip" + i;
  svg.append("clipPath").attr("id", clipId).append("rect")
    .attr("x", p.l).attr("y", p.t).attr("width", p.r - p.l).attr("height", p.b - p.t);

  // grid
  const gx = g.append("g").attr("transform", `translate(0,${p.b})`)
    .call(d3.axisBottom(x).tickValues(p.xg).tickSize(-(p.b - p.t)).tickFormat(""));
  const gy = g.append("g").attr("transform", `translate(${p.l},0)`)
    .call(d3.axisLeft(y).tickValues(yGrid).tickSize(-(p.r - p.l)).tickFormat(""));
  [gx, gy].forEach(a => {
    a.select(".domain").remove();
    a.selectAll("line").attr("stroke", "#333").attr("stroke-width", 0.9).attr("stroke-dasharray", "1,3");
  });

  // scatter
  const m = markers[p.marker];
  g.append("g").attr("clip-path", `url(#${clipId})`)
    .selectAll("path").data(p.pts).join("path")
    .attr("transform", d => `translate(${x(d[0])},${y(d[1])})`)
    .attr("d", m.d).attr("fill", m.fill).attr("stroke", BLUE)
    .attr("stroke-width", m.sw).attr("opacity", m.op);

  // fit
  g.append("path").datum(p.fit)
    .attr("d", d3.line().x(d => x(d[0])).y(d => y(d[1])).curve(d3.curveMonotoneX))
    .attr("fill", "none").attr("stroke", RED).attr("stroke-width", 3);

  // axes tick labels
  const ax = g.append("g").attr("transform", `translate(0,${p.b})`)
    .call(d3.axisBottom(x).tickValues(p.xt).tickSize(0).tickPadding(12).tickFormat(fmt));
  const ay = g.append("g").attr("transform", `translate(${p.l},0)`)
    .call(d3.axisLeft(y).tickValues(yTicks).tickSize(0).tickPadding(8).tickFormat(fmtY));
  [ax, ay].forEach(a => {
    a.select(".domain").remove();
    a.selectAll("text").attr("font-family", "DejaVu Serif").attr("font-size", 18).attr("fill", "#000");
  });

  // frame
  g.append("rect").attr("x", p.l).attr("y", p.t).attr("width", p.r - p.l).attr("height", p.b - p.t)
    .attr("fill", "none").attr("stroke", "#000").attr("stroke-width", 1.4);

  // x title
  const t = g.append("text").attr("x", p.tx).attr("y", p.ty).attr("text-anchor", "middle")
    .attr("font-size", 18).attr("fill", "#000");
  if (p.title === "irr") {
    t.append("tspan").text("Global irradiance /(W/m");
    t.append("tspan").attr("font-size", 11).attr("dy", -8).text("2");
    t.append("tspan").attr("dy", 8).text(")");
  } else t.text(p.title);

  // y title
  const yt = g.append("text").attr("transform", `translate(${p.ylx + 6},${p.yly}) rotate(-90)`)
    .attr("text-anchor", "middle").attr("fill", "#000");
  yt.append("tspan").attr("font-style", "italic").attr("font-size", 20).text("e");
  yt.append("tspan").attr("font-size", 13).attr("dy", 6).text("nor");

  // legend
  const L = p.leg;
  g.append("path").attr("transform", `translate(${p.l + L.mx},${p.t + L.my})`)
    .attr("d", m.d).attr("fill", m.fill).attr("stroke", BLUE).attr("stroke-width", m.sw).attr("opacity", m.op);
  const le = g.append("text").attr("x", p.l + L.ex).attr("y", p.t + L.ey);
  le.append("tspan").attr("font-style", "italic").attr("font-size", 19).text("e");
  le.append("tspan").attr("font-size", 12).attr("dx", L.nsx).attr("dy", L.nsy).text("nor");
  g.append("line").attr("x1", p.l + L.lx1).attr("x2", p.l + L.lx2).attr("y1", p.t + L.ly).attr("y2", p.t + L.ly)
    .attr("stroke", RED).attr("stroke-width", 3);
  const lt = g.append("text").attr("x", p.l + L.tx).attr("y", p.t + L.ty).attr("font-size", 18);
  lt.append("tspan").text("quadratic fit of ");
  lt.append("tspan").attr("font-style", "italic").attr("font-size", 19).text("e");
  lt.append("tspan").attr("font-size", 13).attr("dy", 6).text("nor");

  // panel label
  g.append("text").attr("x", p.r - p.labR).attr("y", p.b - 9).attr("text-anchor", "end")
    .attr("font-size", 18).text(panelLabels[i]);
});
</script>
</body></html>
